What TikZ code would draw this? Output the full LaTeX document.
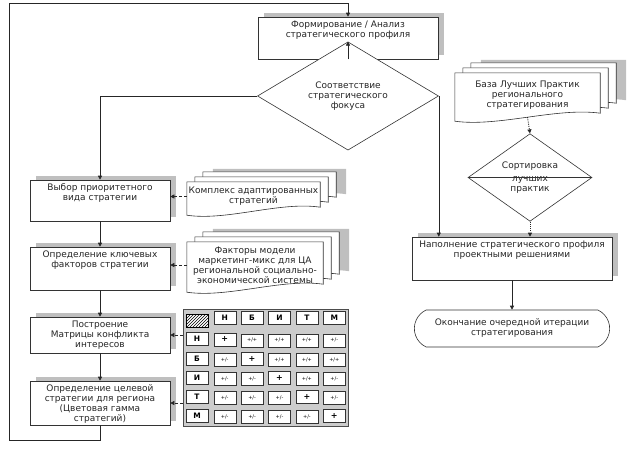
\documentclass[tikz,border=0pt]{standalone}
\usepackage{fontspec}
\setmainfont{DejaVu Sans}
\usetikzlibrary{shapes.geometric,shapes.misc,shadows,matrix,patterns,backgrounds,calc,arrows.meta}

\newcommand{\boxfont}{\fontsize{9}{10}\selectfont}
% stack of pages behind a document node
\newcommand{\docstack}[1]{%
  \begin{scope}[on background layer]
    \foreach \dx/\dy/\pgsty in {26pt/13pt/docshadow, 16pt/10pt/docpage, 8pt/5pt/docpage, 0pt/0pt/docpage}{
      \path[\pgsty] let \p1=(#1.north west), \p2=(#1.south east) in
        (\x1+\dx,\y1+\dy) -- (\x2+\dx,\y1+\dy) -- (\x2+\dx,\y2+\dy+4pt)
        .. controls (0.7*\x2+0.3*\x1+\dx,\y2+\dy+10pt) and (0.7*\x1+0.3*\x2+\dx,\y2+\dy-10pt) .. (\x1+\dx,\y2+\dy-4pt) -- cycle;
    }
  \end{scope}}

\begin{document}
\begin{tikzpicture}[x=1pt,y=-1pt]

    \tikzset{
      procbox/.style={
        draw=black!80,
        fill=white,
        line width=0.6pt,
        drop shadow={shadow xshift=6pt, shadow yshift=4pt, fill=gray!50, opacity=1},
      },
      boxtext/.style={anchor=north, align=center, inner sep=0pt, yshift=-4pt, font=\boxfont, text=black!85},
      decision/.style={diamond, draw=black!80, fill=white, line width=0.6pt, inner sep=0pt,
        align=center, font=\boxfont, text=black!85},
      terminal/.style={rounded rectangle, rounded rectangle arc length=130, draw=black!80,
        line width=0.6pt, align=center, font=\boxfont, text=black!85},
      doctext/.style={inner sep=0pt, align=center, font=\boxfont, text=black!85},
      docpage/.style={draw=black!80, fill=white, line width=0.6pt},
      docshadow/.style={fill=gray!50},
      flow/.style={draw=black!85, line width=0.6pt, -{Triangle[length=4pt,width=4pt]}},
      dashflow/.style={flow, dash pattern=on 3pt off 2pt},
      dotflow/.style={flow, line width=0.9pt, dash pattern=on 1pt off 1.2pt},
      cell/.style={draw=black!80, fill=white, minimum width=22pt, minimum height=13pt,
        inner sep=0pt, font=\fontsize{5}{6}\selectfont},
      headcell/.style={cell, font=\bfseries\fontsize{7.5}{8}\selectfont},
      plus/.style={cell, font=\bfseries\fontsize{8}{8}\selectfont},
      hatchcell/.style={cell, draw=black, line width=1pt, preaction={fill=white}, pattern=north east lines},
    }
    \useasboundingbox (0,0) rectangle (632,448);

	% left column
	\node[procbox, minimum width=180pt, minimum height=42pt,
	  label={[boxtext]north:{Формирование / Анализ\\стратегического профиля}}] (form) at (348,38) {};
	\node[decision, minimum width=181pt, minimum height=64pt] (fokus) at (348,96) {Соответствие\\стратегического\\фокуса};
	\node[procbox, minimum width=140pt, minimum height=41pt,
	  label={[boxtext]north:{Выбор приоритетного\\вида стратегии}}] (vybor) at (100,200.5) {};
	\node[procbox, minimum width=140pt, minimum height=43pt,
	  label={[boxtext]north:{Определение ключевых\\факторов стратегии}}] (klyuch) at (100,268.5) {};
	\node[procbox, minimum width=140pt, minimum height=36pt,
	  label={[boxtext]north:{Построение\\Матрицы конфликта\\интересов}}] (postr) at (100,335) {};
	\node[procbox, minimum width=140pt, minimum height=44pt,
	  label={[boxtext]north:{Определение целевой\\стратегии для региона\\(Цветовая гамма\\стратегий)}}] (celev) at (100,403) {};

	% documents
	\node[doctext, minimum width=133pt, minimum height=29pt] (kompleks) at (253.5,196.5) {Комплекс адаптированных\\стратегий};
	\docstack{kompleks}
	\node[doctext, minimum width=136pt, minimum height=46pt] (faktory) at (255,265) {Факторы модели\\маркетинг-микс для ЦА\\региональной социально-\\экономической системы};
	\docstack{faktory}
	\node[doctext, minimum width=145pt, minimum height=44pt] (baza) at (527.5,95) {База Лучших Практик\\регионального\\стратегирования};
	\docstack{baza}

	% right column
	\node[decision, minimum width=124pt, minimum height=65pt] (sort) at (530,177.5) {Сортировка\\[3pt]лучших\\практик};
	\draw[draw=black!80, line width=0.6pt] (sort.west) -- (sort.east);
	\node[procbox, minimum width=200pt, minimum height=43pt,
	  label={[boxtext]north:{Наполнение стратегического профиля\\проектными решениями}}] (napoln) at (512,258.5) {};
	\node[terminal, minimum width=202pt, minimum height=37pt] (konec) at (512,328.5) {Окончание очередной итерации\\стратегирования};

	% conflict matrix
	\matrix (mtx) [matrix of nodes, nodes in empty cells, nodes={cell}, column sep=5pt, row sep=4.6pt,
	  fill=gray!40, draw=black!70, inner sep=2.5pt] at (265.5,367.5) {
	  |[hatchcell]| & |[headcell]| Н & |[headcell]| Б & |[headcell]| И & |[headcell]| Т & |[headcell]| М \\
	  |[headcell]| Н & |[plus]| + & +/+ & +/+ & +/+ & +/- \\
	  |[headcell]| Б & +/- & |[plus]| + & +/+ & +/+ & +/+ \\
	  |[headcell]| И & +/- & +/- & |[plus]| + & +/+ & +/- \\
	  |[headcell]| Т & +/- & +/- & +/- & |[plus]| + & +/- \\
	  |[headcell]| М & +/- & +/- & +/- & +/- & |[plus]| + \\
	};

	% connectors
	\coordinate (loopbl) at (9,440);
	\coordinate (looptl) at (9,3);
	\draw[flow] (celev.south) |- (loopbl) -- (looptl) -| (form.north);
	\draw[flow] (form.south) -- (fokus.north);
	\draw[flow] (fokus.west) -| (vybor.north);
	\draw[flow] (fokus.east) -- (fokus.east |- napoln.north);
	\draw[flow] (vybor.south) -- (klyuch.north);
	\draw[flow] (klyuch.south) -- (postr.north);
	\draw[flow] (postr.south) -- (celev.north);
	\draw[dashflow] (kompleks.west) -- (kompleks.west -| vybor.east);
	\draw[dashflow] (faktory.west) -- (faktory.west -| klyuch.east);
	\draw[dashflow] (mtx.west |- postr.east) -- (postr.east);
	\draw[dashflow] (mtx.west |- celev.east) -- (celev.east);
	\draw[dotflow] (baza.south) -- (sort.north);
	\draw[dotflow] (sort.south) -- (sort.south |- napoln.north);
	\draw[flow] (napoln.south) -- (konec.north);

\end{tikzpicture}
\end{document}
